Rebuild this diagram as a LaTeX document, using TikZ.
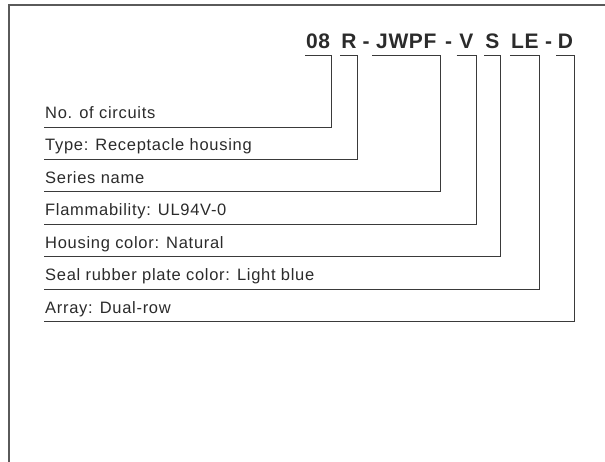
\documentclass[tikz,border=0pt]{standalone}
\usepackage{fontspec}
\setmainfont{Liberation Sans}
\newfontfamily\labfont{Liberation Sans}[LetterSpace=4.3]
\newfontfamily\codefont{Liberation Sans}[LetterSpace=3]
\definecolor{ink}{HTML}{2B2B2B}
\definecolor{rule}{HTML}{3A3A3A}
\definecolor{framegray}{HTML}{5A5A5A}

\tikzstyle{part}=[anchor=south west,inner xsep=0pt,inner ysep=7pt,text depth=0pt,align=center,text=ink,font=\codefont\bfseries\fontsize{21}{24}\selectfont]
\tikzstyle{hyphen}=[anchor=south west,inner xsep=0pt,inner ysep=7pt,text depth=0pt,text=ink,font=\bfseries\fontsize{21}{24}\selectfont]
\tikzstyle{desc}=[anchor=south west,inner xsep=1pt,inner ysep=8.4pt,text depth=0pt,text=ink,font=\labfont\fontsize{16.5}{19}\selectfont]
\tikzstyle{bracket} = [draw,rule,line width=0.9pt]
\newcommand{\rowgap}{32.45}

\begin{document}
\begin{tikzpicture}[x=1pt, y=-1pt]
    \useasboundingbox (0,0) rectangle (605,462);
    % Frame (top and left side only)
    \draw[framegray, line width=1.4pt] (605,5) -- (9,5) -- (9,462);
    % Dashes of the part number
    \foreach \pos/\name in {{(362.3,55.7)/da}, {(445,55.7)/db}, {(545,55.7)/dc}}
        \node[hyphen] (\name) at \pos {-};
    % Each field of the part number with its description and bracket
    \foreach \name/\left/\right/\lev/\code/\text in {
        n/305/330.7/0/08/No. of circuits,
        r/340/357.3/1/R/Type: Receptacle housing,
        j/372.3/440/2/JWPF/Series name,
        v/456.7/475.7/3/V/Flammability: UL94V-0,
        s/484/500.3/4/S/Housing color: Natural,
        l/510/539.3/5/LE/Seal rubber plate color: Light blue,
        d/556/574.3/6/D/Array: Dual-row}
    {
        \pgfmathsetmacro{\w}{\right-\left}
        \node[part, text width=\w pt] (\name) at (\left,55.7) {\code};
        \node[desc] (\name desc) at (44,{127+\rowgap*\lev}) {\text};
        \path[bracket] (\name.south west) -- (\name.south east) |- (\name desc.south west);
    }
\end{tikzpicture}
\end{document}
